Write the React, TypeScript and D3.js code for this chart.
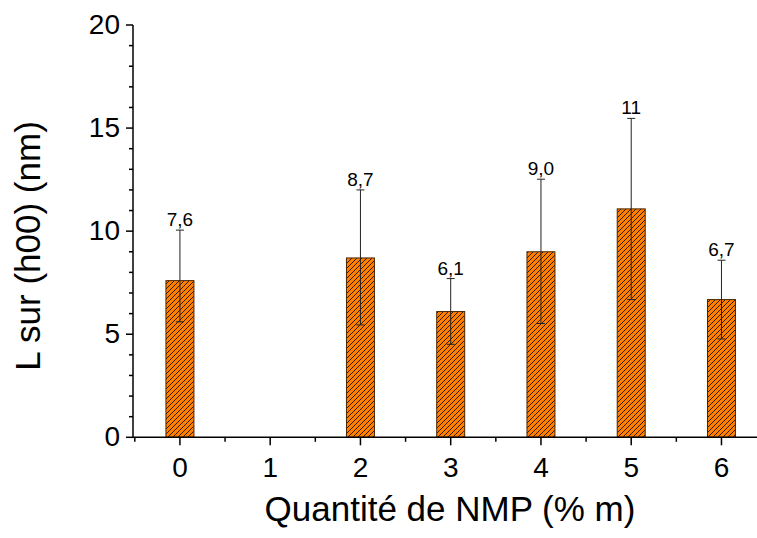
import React from "react";
import * as d3 from "d3";

const categories = [0, 1, 2, 3, 4, 5, 6];
const values: (number | null)[] = [7.6, null, 8.7, 6.1, 9.0, 11.08, 6.68];
const valueLabels = ["7,6", "", "8,7", "6,1", "9,0", "11", "6,7"];
const errUpper: (number | null)[] = [10.05, null, 12.0, 7.7, 12.52, 15.47, 8.59];
const errLower: (number | null)[] = [5.6, null, 5.45, 4.51, 5.52, 6.68, 4.77];
const xTickLabels = ["0", "1", "2", "3", "4", "5", "6"];
const yTicks = [0, 5, 10, 15, 20];

const W = 757;
const H = 538;
const FONT = "'Liberation Sans', Arial, Helvetica, sans-serif";

export default function App() {
  const x = d3.scaleLinear().domain([-0.52, 6.5]).range([133, 766.6]);
  const y = d3.scaleLinear().domain([0, 20]).range([437.3, 25]);
  const barW = 0.31;
  const x0 = x(-0.52);
  const y0 = y(0);

  const yMinor = d3.range(0, 21, 1);
  const xMinor = d3.range(-0.5, 7, 0.5).filter((v) => !Number.isInteger(v));

  return (
    <svg
      width={W}
      height={H}
      style={{ position: "absolute", left: 0, top: 0, background: "#fff" }}
      fontFamily={FONT}
    >
      <defs>
        <pattern id="hatch" patternUnits="userSpaceOnUse" width={5} height={5}>
          <rect width={5} height={5} fill="#FF8000" />
          <path d="M0,5 L5,0 M-1,1 L1,-1 M4,6 L6,4" stroke="#000" strokeWidth={0.8} />
        </pattern>
      </defs>

      {/* bars */}
      {categories.map((c, i) => {
        const v = values[i];
        if (v == null) return null;
        const xl = x(c - barW / 2);
        const xr = x(c + barW / 2);
        return (
          <rect
            key={"b" + i}
            x={xl}
            y={y(v)}
            width={xr - xl}
            height={y0 - y(v)}
            fill="url(#hatch)"
            stroke="#4a2400"
            strokeWidth={1}
          />
        );
      })}

      {/* error bars */}
      {categories.map((c, i) => {
        const hi = errUpper[i];
        const lo = errLower[i];
        if (hi == null || lo == null) return null;
        const cx = x(c);
        return (
          <g key={"e" + i} stroke="#222" strokeWidth={1}>
            <line x1={cx} x2={cx} y1={y(hi)} y2={y(lo)} />
            <line x1={cx - 4} x2={cx + 4} y1={y(hi)} y2={y(hi)} />
            <line x1={cx - 4} x2={cx + 4} y1={y(lo)} y2={y(lo)} />
          </g>
        );
      })}

      {/* value labels */}
      {categories.map((c, i) => {
        const hi = errUpper[i];
        if (hi == null || !valueLabels[i]) return null;
        return (
          <text key={"l" + i} x={x(c)} y={y(hi) - 4} textAnchor="middle" fontSize={19} fill="#000">
            {valueLabels[i]}
          </text>
        );
      })}

      {/* y axis */}
      <line x1={x0} x2={x0} y1={y(20)} y2={y0} stroke="#000" strokeWidth={1.5} />
      {yMinor.map((t) => (
        <line
          key={"ym" + t}
          x1={x0}
          x2={x0 - (t % 5 === 0 ? 7 : 4)}
          y1={y(t)}
          y2={y(t)}
          stroke="#000"
          strokeWidth={1.5}
        />
      ))}
      {yTicks.map((t) => (
        <text key={"yt" + t} x={120} y={y(t) + 9} textAnchor="end" fontSize={28} fill="#000">
          {t}
        </text>
      ))}

      {/* x axis */}
      <line x1={x0} x2={W + 10} y1={y0} y2={y0} stroke="#000" strokeWidth={1.5} />
      {categories.map((c) => (
        <line key={"xt" + c} x1={x(c)} x2={x(c)} y1={y0} y2={y0 + 8} stroke="#000" strokeWidth={1.5} />
      ))}
      {xMinor.map((c) => (
        <line key={"xm" + c} x1={x(c)} x2={x(c)} y1={y0} y2={y0 + 4.5} stroke="#000" strokeWidth={1.5} />
      ))}
      {categories.map((c, i) => (
        <text key={"xl" + c} x={x(c)} y={y0 + 40} textAnchor="middle" fontSize={28} fill="#000">
          {xTickLabels[i]}
        </text>
      ))}

      {/* axis titles */}
      <text x={450} y={521} textAnchor="middle" fontSize={35} fill="#000">
        Quantité de NMP (% m)
      </text>
      <text
        transform={`translate(40,246) rotate(-90)`}
        textAnchor="middle"
        fontSize={35}
        fill="#000"
      >
        L sur (h00) (nm)
      </text>
    </svg>
  );
}
